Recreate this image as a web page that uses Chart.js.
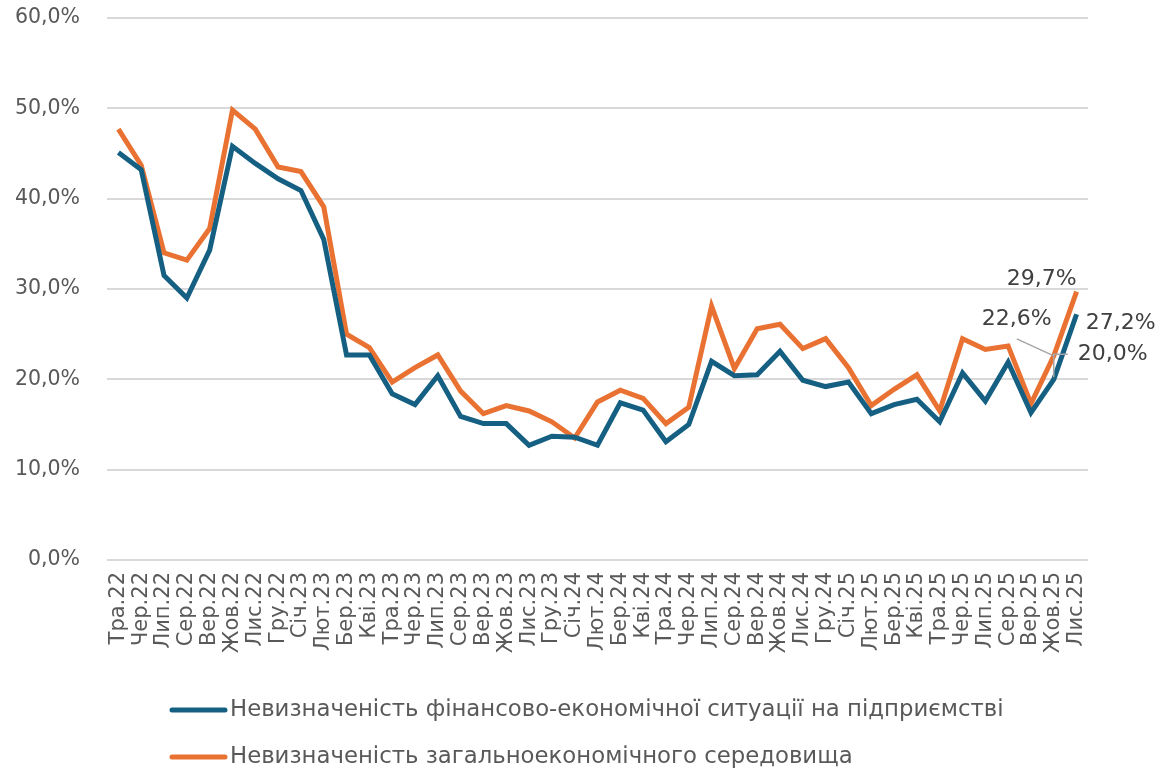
<!DOCTYPE html>
<html lang="uk">
<head>
<meta charset="utf-8">
<title>Невизначеність</title>
<script src="https://cdn.jsdelivr.net/npm/chart.js@4.4.1/dist/chart.umd.min.js"></script>
<style>
  html, body { margin: 0; padding: 0; background: #fff; }
  #wrap { width: 1160px; height: 769px; }
</style>
</head>
<body>
<div id="wrap"><canvas id="chart" width="1160" height="769"></canvas></div>
<script>
// Місяці (травень 2022 - листопад 2025)
const categories = [
  'Тра.22','Чер.22','Лип.22','Сер.22','Вер.22','Жов.22','Лис.22','Гру.22',
  'Січ.23','Лют.23','Бер.23','Кві.23','Тра.23','Чер.23','Лип.23','Сер.23','Вер.23','Жов.23','Лис.23','Гру.23',
  'Січ.24','Лют.24','Бер.24','Кві.24','Тра.24','Чер.24','Лип.24','Сер.24','Вер.24','Жов.24','Лис.24','Гру.24',
  'Січ.25','Лют.25','Бер.25','Кві.25','Тра.25','Чер.25','Лип.25','Сер.25','Вер.25','Жов.25','Лис.25'
];

// Невизначеність фінансово-економічної ситуації на підприємстві, %
const financialUncertainty = [
  45.1, 43.2, 31.5, 29.0, 34.3, 45.8, 43.9, 42.2,
  40.9, 35.5, 22.7, 22.7, 18.4, 17.2, 20.4, 15.9, 15.1, 15.1, 12.7, 13.7,
  13.6, 12.7, 17.4, 16.6, 13.1, 15.0, 22.0, 20.4, 20.5, 23.1, 19.9, 19.2,
  19.7, 16.2, 17.2, 17.8, 15.3, 20.7, 17.6, 21.9, 16.3, 20.0, 27.2
];

// Невизначеність загальноекономічного середовища, %
const generalUncertainty = [
  47.7, 43.7, 34.0, 33.2, 36.7, 49.8, 47.7, 43.5,
  43.0, 39.1, 25.0, 23.5, 19.7, 21.3, 22.7, 18.7, 16.2, 17.1, 16.5, 15.3,
  13.5, 17.5, 18.8, 17.9, 15.1, 16.9, 28.1, 21.2, 25.6, 26.1, 23.4, 24.5,
  21.3, 17.1, 18.9, 20.5, 16.5, 24.5, 23.3, 23.7, 17.3, 22.6, 29.7
];

const seriesNames = [
  'Невизначеність фінансово-економічної ситуації на підприємстві',
  'Невизначеність загальноекономічного середовища'
];

const yTicks = [0, 10, 20, 30, 40, 50, 60];

const FONT = '"DejaVu Sans", Verdana, sans-serif';
const TEXT = '#595959';

function pct(v) {
  return v.toFixed(1).replace('.', ',') + '%';
}

// Підписи значень для останніх точок
const valueLabels = [
  { ds: 1, idx: 42, dx: -35, dy: -12, line: null },
  { ds: 0, idx: 42, dx: 44, dy: 9, line: null },
  { ds: 1, idx: 41, dx: -37, dy: -37, line: 'diag' },
  { ds: 0, idx: 41, dx: 59, dy: -25, line: 'elbow' }
];

const labelsPlugin = {
  id: 'valueLabels',
  afterDatasetsDraw(chart) {
    const ctx = chart.ctx;
    ctx.save();
    ctx.font = '22px ' + FONT;
    ctx.fillStyle = '#404040';
    ctx.textAlign = 'center';
    ctx.textBaseline = 'middle';
    valueLabels.forEach(l => {
      const pt = chart.getDatasetMeta(l.ds).data[l.idx];
      const v = chart.data.datasets[l.ds].data[l.idx];
      const x = pt.x + l.dx, y = pt.y + l.dy;
      ctx.strokeStyle = '#a6a6a6';
      ctx.lineWidth = 1.5;
      if (l.line === 'diag') {
        ctx.beginPath();
        ctx.moveTo(x, y + 20);
        ctx.lineTo(pt.x, pt.y);
        ctx.stroke();
      } else if (l.line === 'elbow') {
        ctx.beginPath();
        ctx.moveTo(x - 45, y);
        ctx.lineTo(pt.x, y);
        ctx.lineTo(pt.x, pt.y - 2);
        ctx.stroke();
      }
      ctx.fillText(pct(v), x, y);
    });
    ctx.restore();
  }
};

// Легенда під графіком
const legendPlugin = {
  id: 'bottomLegend',
  afterDraw(chart) {
    const ctx = chart.ctx;
    ctx.save();
    ctx.font = '22.8px ' + FONT;
    ctx.textBaseline = 'middle';
    ctx.textAlign = 'left';
    chart.data.datasets.forEach((ds, i) => {
      const y = 710 + i * 47;
      ctx.strokeStyle = ds.borderColor;
      ctx.lineWidth = 5;
      ctx.lineCap = 'round';
      ctx.beginPath();
      ctx.moveTo(172, y);
      ctx.lineTo(225, y);
      ctx.stroke();
      ctx.fillStyle = TEXT;
      ctx.fillText(ds.label, 230, y);
    });
    ctx.restore();
  }
};

new Chart(document.getElementById('chart'), {
  type: 'line',
  data: {
    labels: categories,
    datasets: [
      {
        label: seriesNames[0],
        data: financialUncertainty,
        borderColor: '#156082',
        backgroundColor: '#156082',
        borderWidth: 5,
        pointRadius: 0,
        tension: 0
      },
      {
        label: seriesNames[1],
        data: generalUncertainty,
        borderColor: '#E97132',
        backgroundColor: '#E97132',
        borderWidth: 5,
        pointRadius: 0,
        tension: 0
      }
    ]
  },
  options: {
    responsive: false,
    animation: false,
    devicePixelRatio: 1,
    layout: { padding: { top: 18, right: 72, bottom: 99, left: 0 } },
    plugins: {
      legend: { display: false },
      tooltip: { enabled: false }
    },
    scales: {
      x: {
        offset: true,
        grid: { display: false, drawTicks: false },
        border: { display: false },
        ticks: {
          autoSkip: false,
          minRotation: 90,
          maxRotation: 90,
          padding: 12,
          color: TEXT,
          font: { family: FONT, size: 21 }
        },
        afterFit(scale) {
          scale.height = 110;
          scale.paddingLeft = 0;
          scale.paddingRight = 0;
        }
      },
      y: {
        min: 0,
        max: 60,
        afterBuildTicks(scale) { scale.ticks = yTicks.map(v => ({ value: v })); },
        grid: { color: '#d9d9d9', lineWidth: 2, drawTicks: false },
        border: { display: false },
        ticks: {
          padding: 27,
          color: TEXT,
          font: { family: FONT, size: 20.5 },
          callback: v => pct(v)
        },
        afterFit(scale) {
          scale.width = 107;
          scale.paddingTop = 0;
          scale.paddingBottom = 0;
        }
      }
    }
  },
  plugins: [labelsPlugin, legendPlugin]
});
</script>
</body>
</html>
